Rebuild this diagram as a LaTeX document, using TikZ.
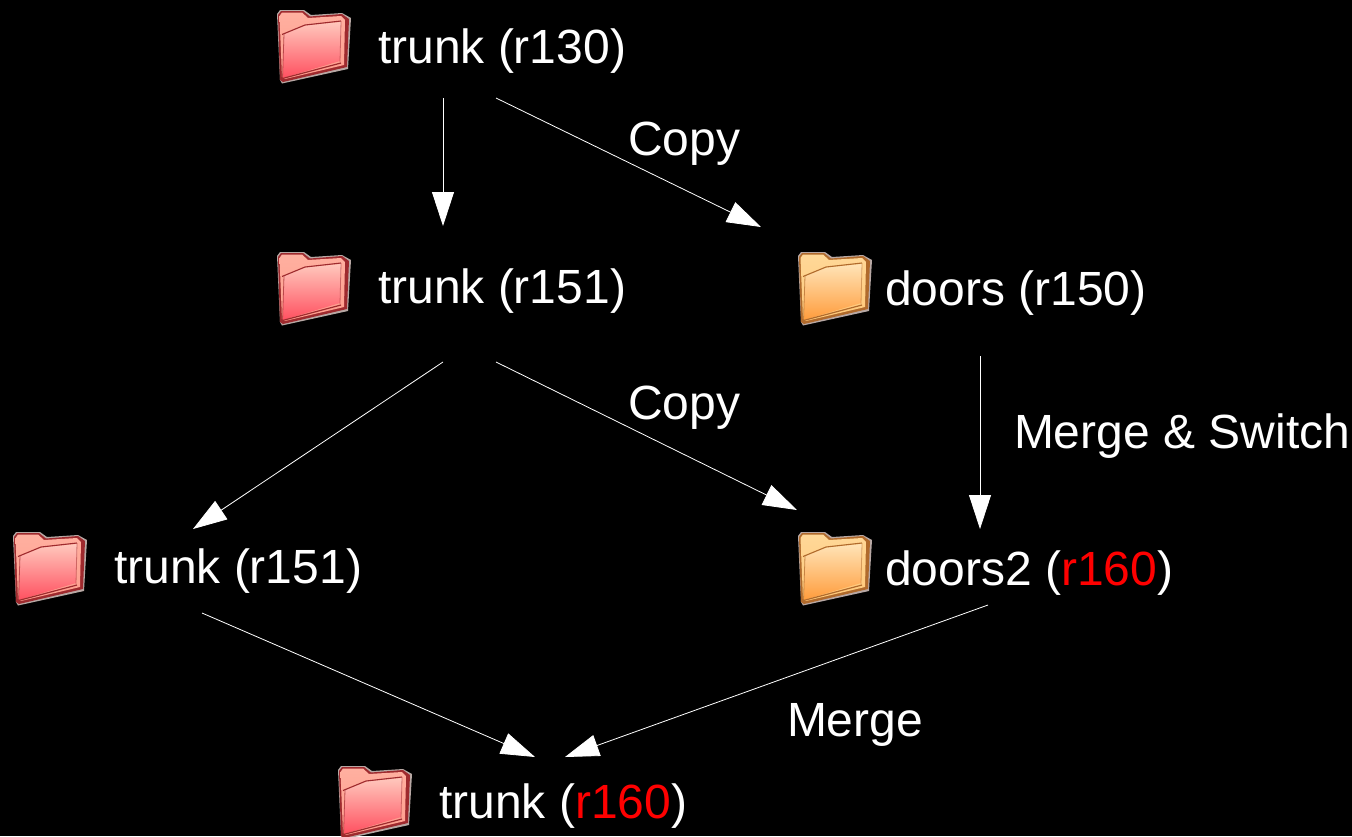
\documentclass[tikz,border=0pt]{standalone}
\usepackage{fontspec}
\setmainfont{Liberation Sans}
\usetikzlibrary{arrows.meta}
\definecolor{redA}{HTML}{FF9C8C}
\definecolor{redB}{HTML}{FFB0A0}
\definecolor{redC}{HTML}{FF5060}
\definecolor{redD}{HTML}{9E2A2E}
\definecolor{orA}{HTML}{FFC878}
\definecolor{orB}{HTML}{FFD898}
\definecolor{orC}{HTML}{FF9C3C}
\definecolor{orD}{HTML}{B06A2C}
\definecolor{edgeW}{HTML}{B8A8A4}
\tikzset{
  x=1pt,y=-1pt,
  lbl/.style={text=white,font=\fontsize{48}{50}\selectfont,anchor=base west,inner sep=0pt,outer sep=0pt},
  conn/.style={draw=white,line width=0.8pt,-{Triangle[length=34pt,width=22pt,fill=white]}},
  pics/folder/.style n args={4}{code={
    % pale outer rim
    \fill[edgeW] (0,4) -- (3,0) -- (27,0) -- (34,5) -- (65,3) -- (74,8) -- (71,59) -- (5,73.5) -- (3,70) -- cycle;
    % dark back outline
    \fill[#4] (1,5) -- (4,1) -- (26,1) -- (33,6.5) -- (65,4) -- (72,9) -- (70,57) -- (6,72) -- (3,70) -- cycle;
    % back panel and tab
    \shade[top color=#2,bottom color=#1] (2.5,6) -- (5,2.5) -- (25,2.5) -- (31,8) -- (64,6) -- (68,10) -- (67,55) -- (8,69) -- (5,67) -- cycle;
    % front panel, its edges melted into the gradient
    \shade[top color=#2!70!white,bottom color=#3] (7,24) -- (29,15.5) -- (64,12) -- (63,51) -- (6,68) -- cycle;
    \draw[#4,line width=1.1pt,line join=round] (5,24.5) -- (28,15) -- (64,11);
    \draw[#4,opacity=0.5,line width=0.8pt] (64,11) -- (63,52);
    \draw[#4,opacity=0.7,line width=0.8pt] (7,24) -- (5.5,68);
    \draw[#4,line width=1.2pt] (5.5,68.5) -- (64,53);
  }}
}
\begin{document}
\begin{tikzpicture}
\useasboundingbox (0,0) rectangle (1352,836);
\fill[black] (0,0) rectangle (1352,836);

\pic at (277,10) {folder={redA}{redB}{redC}{redD}};
\pic at (277,252) {folder={redA}{redB}{redC}{redD}};
\pic at (13,532) {folder={redA}{redB}{redC}{redD}};
\pic at (338,766) {folder={redA}{redB}{redC}{redD}};
\pic at (798,252) {folder={orA}{orB}{orC}{orD}};
\pic at (798,532) {folder={orA}{orB}{orC}{orD}};

\node[lbl] (t130) at (378,63) {trunk (r130)};
\node[lbl] (t151a) at (378,303) {trunk (r151)};
\node[lbl] (d150) at (885,305) {doors (r150)};
\node[lbl] (t151b) at (114,583) {trunk (r151)};
\node[lbl] (d160) at (885,585) {doors2 (\textcolor{red}{r160})};
\node[lbl] (t160) at (439,818) {trunk (\textcolor{red}{r160})};
\node[lbl] (c1) at (628,155) {Copy};
\node[lbl] (c2) at (628,419) {Copy};
\node[lbl] (ms) at (1014,448) {Merge \& Switch};
\node[lbl] (m) at (787,736) {Merge};

\coordinate (a1) at (443,98);
\coordinate (a2) at (496,98);
\coordinate (b1) at (443,226);
\coordinate (b2) at (761,227);
\coordinate (e1) at (443,362);
\coordinate (e2) at (496,362);
\coordinate (f1) at (193,529);
\coordinate (f2) at (797,510);
\coordinate (g1) at (980,356);
\coordinate (g2) at (980,529);
\coordinate (h1) at (202,613);
\coordinate (h2) at (535,757);
\coordinate (i1) at (988,605);
\coordinate (i2) at (565,757);

\draw[conn] (a1) -- (b1);
\draw[conn] (a2) -- (b2);
\draw[conn] (e1) -- (f1);
\draw[conn] (e2) -- (f2);
\draw[conn] (g1) -- (g2);
\draw[conn] (h1) -- (h2);
\draw[conn] (i1) -- (i2);
\end{tikzpicture}
\end{document}
